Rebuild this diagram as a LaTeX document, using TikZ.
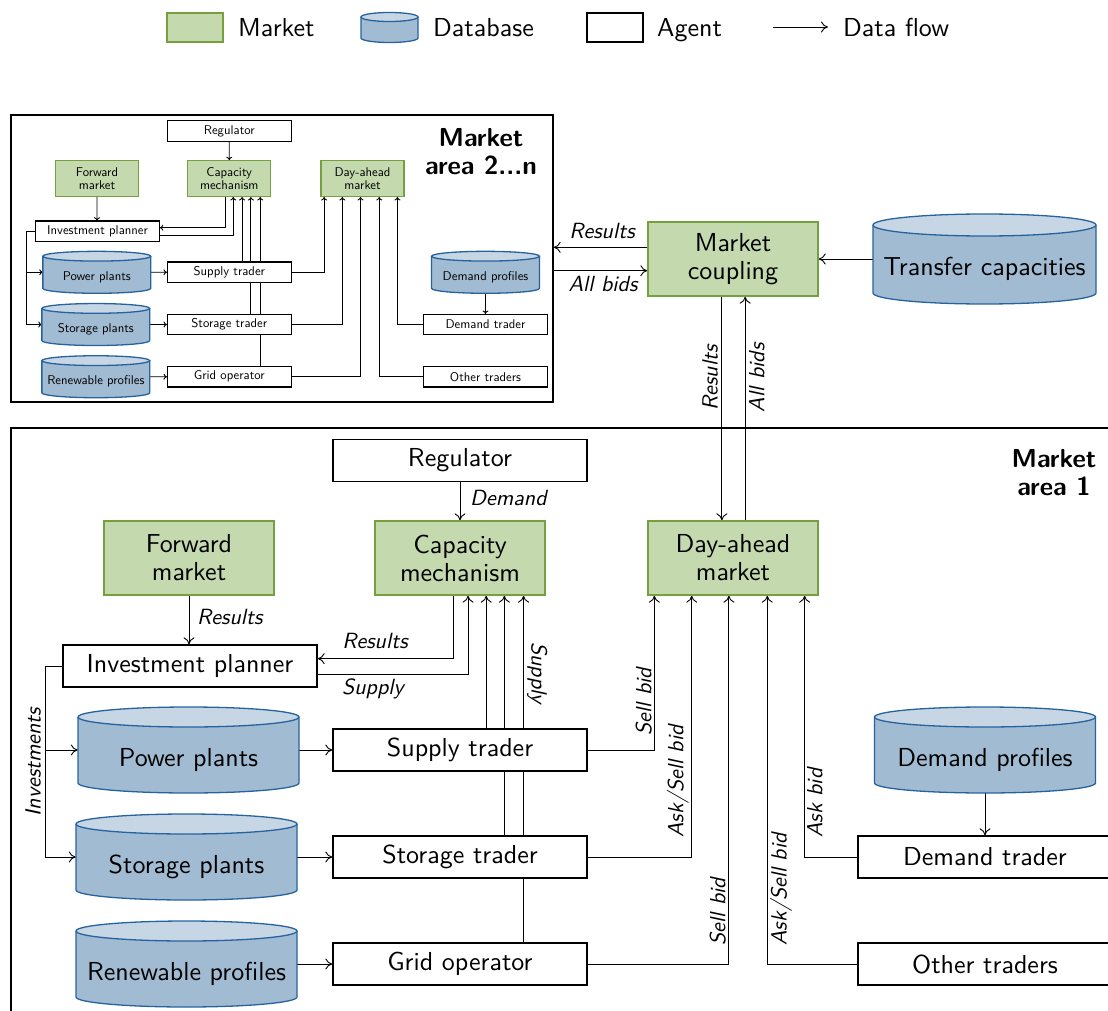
\documentclass[tikz,border=0pt]{standalone}
\usepackage{fontspec}
\setsansfont{lmsans10}[Extension=.otf, UprightFont=*-regular, BoldFont=*-bold,
  ItalicFont=*-oblique, BoldItalicFont=*-boldoblique]
\usetikzlibrary{arrows.meta,calc}
\pgfdeclarelayer{bg}
\pgfsetlayers{bg,main}

\definecolor{mktfill}{RGB}{197,217,175}
\definecolor{mktdraw}{RGB}{118,160,62}
\definecolor{dbbody}{RGB}{161,187,210}
\definecolor{dbtop}{RGB}{199,214,228}
\definecolor{dbdraw}{RGB}{38,98,158}

\newcommand\dgmtext{\sffamily\fontsize{26}{28}\selectfont}
\newcommand\dgmlabel{\sffamily\itshape\fontsize{22}{24}\selectfont}
\newcommand\dgmtitle{\sffamily\bfseries\fontsize{26}{28}\selectfont}

\tikzset{
  agent/.style={draw=black, line width=1.3pt, fill=white, minimum width=254pt,
    minimum height=42pt, inner sep=0pt, font=\dgmtext},
  market/.style={draw=mktdraw, line width=1.3pt, fill=mktfill, minimum width=170pt,
    minimum height=74pt, inner sep=0pt, align=center, font=\dgmtext},
  dbshape/.style={draw=dbdraw, line width=1.3pt},
  dbtext/.style={inner sep=0pt, font=\dgmtext, text height=37pt, text depth=5pt},
  flow/.style={->, line width=0.9pt, draw=black},
  lbl/.style={inner sep=0pt, font=\dgmlabel},
  legtext/.style={inner sep=0pt, font=\dgmtext, anchor=base west},
  areatitle/.style={inner sep=0pt, align=center, font=\dgmtitle},
  areaframe/.style={draw=black, line width=1.3pt, inner sep=0pt},
}

% database cylinder: name, x, y, width, height, end radius, text
\newcommand\dbase[7]{%
  \filldraw[dbshape, fill=dbbody] ({#2-#4/2},{#3+#5/2-#6}) -- ({#2-#4/2},{#3-#5/2+#6})
    arc[start angle=180, end angle=360, x radius={#4/2}, y radius=#6]
    -- ({#2+#4/2},{#3+#5/2-#6});
  \filldraw[dbshape, fill=dbtop] (#2,{#3+#5/2-#6}) ellipse[x radius={#4/2}, y radius=#6];
  \node[dbtext, minimum width=#4pt, minimum height=#5pt] (#1) at (#2,#3) {#7};
}

% one market area: agents, markets, databases and their data flows
\newcommand\marketarea[1]{%
  \node[agent]  (#1reg)  at (460,-460.5) {Regulator};
  \node[market] (#1fwd)  at (189,-558) {Forward\\market};
  \node[market] (#1cap)  at (460,-558) {Capacity\\mechanism};
  \node[market] (#1da)   at (733,-558) {Day-ahead\\market};
  \node[agent]  (#1inv)  at (190,-666) {Investment planner};
  \dbase{#1pp}{188.5}{-750}{221}{86}{10}{Power plants}
  \dbase{#1sp}{186.5}{-857}{221}{86}{10}{Storage plants}
  \dbase{#1rp}{186.5}{-964}{221}{86}{10}{Renewable profiles}
  \node[agent]  (#1sup)  at (460,-750) {Supply trader};
  \node[agent]  (#1sto)  at (460,-857) {Storage trader};
  \node[agent]  (#1grid) at (460,-964) {Grid operator};
  \dbase{#1dp}{985}{-750}{221}{86}{10}{Demand profiles}
  \node[agent]  (#1dem)  at (985,-857) {Demand trader};
  \node[agent]  (#1oth)  at (985,-964) {Other traders};
  \coordinate (#1cr) at ($(#1cap.south west)!0.459!(#1cap.south east)$);
  \coordinate (#1cs) at ($(#1cap.south west)!0.547!(#1cap.south east)$);
  \coordinate (#1c1) at ($(#1cap.south west)!0.653!(#1cap.south east)$);
  \coordinate (#1c2) at ($(#1cap.south west)!0.759!(#1cap.south east)$);
  \coordinate (#1c3) at ($(#1cap.south west)!0.871!(#1cap.south east)$);
  \coordinate (#1d1) at ($(#1da.south west)!0.041!(#1da.south east)$);
  \coordinate (#1d2) at ($(#1da.south west)!0.259!(#1da.south east)$);
  \coordinate (#1d3) at ($(#1da.south west)!0.476!(#1da.south east)$);
  \coordinate (#1d4) at ($(#1da.south west)!0.700!(#1da.south east)$);
  \coordinate (#1d5) at ($(#1da.south west)!0.918!(#1da.south east)$);
  \coordinate (#1ir) at ($(#1inv.north east)!0.33!(#1inv.south east)$);
  \coordinate (#1is) at ($(#1inv.north east)!0.69!(#1inv.south east)$);
  \coordinate (#1iv1) at (45,-750);
  \coordinate (#1iv2) at (45,-857);
  \begin{pgfonlayer}{bg}
    \draw[flow] (#1reg) -- (#1cap);
    \draw[flow] (#1fwd) -- (#1fwd |- #1inv.north);
    \draw[flow] (#1cr) |- (#1ir);
    \draw[flow] (#1is) -| (#1cs);
    \draw[flow] (#1c1 |- #1sup.north) -- (#1c1);
    \draw[flow] (#1c2 |- #1sto.north) -- (#1c2);
    \draw[flow] (#1c3 |- #1grid.north) -- (#1c3);
    \draw[flow] (#1sup) -| (#1d1);
    \draw[flow] (#1sto) -| (#1d2);
    \draw[flow] (#1grid) -| (#1d3);
    \draw[flow] (#1oth) -| (#1d4);
    \draw[flow] (#1dem) -| (#1d5);
    \draw[flow] (#1dp) -- (#1dp |- #1dem.north);
    \draw[flow] (#1pp) -- (#1sup);
    \draw[flow] (#1sp) -- (#1sto);
    \draw[flow] (#1rp) -- (#1grid);
    \draw[flow] (#1inv.west) -| (#1iv2) -- (#1sp.west);
    \draw[flow] (#1iv1) -- (#1pp.west);
  \end{pgfonlayer}
}

\begin{document}
\begin{tikzpicture}[x=1pt, y=1pt, >={To[length=7pt,width=11pt]}]
\useasboundingbox (0,0) rectangle (1108,-1011);
\clip (0,0) rectangle (1108,-1011);

% legend
\node[market, minimum width=56pt, minimum height=29pt] (legmkt) at (195,-27.5) {};
\node[legtext] (legmktt) at (238,-36.5) {Market};
\dbase{legdb}{389.5}{-27.5}{57}{30}{4.5}{}
\node[legtext] (legdbt) at (433,-36.5) {Database};
\node[agent, minimum width=56pt, minimum height=29pt] (legag) at (615,-27.5) {};
\node[legtext] (legagt) at (657,-36.5) {Agent};
\coordinate (legfa) at (773,-27);
\coordinate (legfb) at (828,-27);
\draw[flow] (legfa) -- (legfb);
\node[legtext] (legflt) at (843,-36.5) {Data flow};

% market areas 2...n, drawn as a reduced copy
\node[areaframe, minimum width=542pt, minimum height=287pt] (a2) at (282,-258.5) {};
\begin{scope}[shift={(4.8,93.7)}, scale=0.488, transform shape, >={To[length=3.5pt,width=6pt]}]
  \marketarea{B}
\end{scope}
\node[areatitle] (a2title) at (481,-152) {Market\\area 2...n};

% market area 1
\node[areaframe, minimum width=1112pt, minimum height=588pt] (a1) at (567,-722) {};
\marketarea{A}
\node[areatitle] (a1title) at (1054,-473) {Market\\area 1};

% market coupling between the areas
\node[market] (mc) at (733,-259) {Market\\coupling};
\dbase{tc}{984.5}{-259}{223}{90}{11}{Transfer capacities}
\coordinate (mcr) at ($(mc.north west)!0.345!(mc.south west)$);
\coordinate (mca) at ($(mc.north west)!0.655!(mc.south west)$);
\coordinate (mcd) at ($(mc.south west)!0.435!(mc.south east)$);
\coordinate (mcu) at ($(mc.south west)!0.571!(mc.south east)$);
\begin{pgfonlayer}{bg}
  \draw[flow] (tc) -- (mc);
  \draw[flow] (mcr) -- (mcr -| a2.east);
  \draw[flow] (mca -| a2.east) -- (mca);
  \draw[flow] (mcd) -- (mcd |- Ada.north);
  \draw[flow] (mcu |- Ada.north) -- (mcu);
\end{pgfonlayer}

% flow labels
\node[lbl] (lcr) at (602,-231) {Results};
\node[lbl] (lca) at (603,-284) {All bids};
\node[lbl, rotate=90, anchor=south] (lcd) at (718,-378) {Results};
\node[lbl, rotate=90, anchor=north] (lcu) at (749,-378) {All bids};
\node[lbl, anchor=west] (ldem) at (470,-498) {Demand};
\node[lbl, anchor=west] (lfr) at (197,-617) {Results};
\node[lbl] (lcres) at (375,-641) {Results};
\node[lbl] (lcsup) at (373,-689) {Supply};
\node[lbl, rotate=-90, anchor=south] (lsv) at (527,-673) {Supply};
\node[lbl, rotate=90, anchor=south west] (ls1) at (652,-736) {Sell bid};
\node[lbl, rotate=90, anchor=south west] (ls2) at (689,-838) {Ask/Sell bid};
\node[lbl, rotate=90, anchor=south west] (ls3) at (726,-946) {Sell bid};
\node[lbl, rotate=90, anchor=north west] (ls4) at (770,-946) {Ask/Sell bid};
\node[lbl, rotate=90, anchor=north west] (ls5) at (807,-838) {Ask bid};
\node[lbl, rotate=90, anchor=south] (linv) at (41,-762) {Investments};
\end{tikzpicture}
\end{document}
